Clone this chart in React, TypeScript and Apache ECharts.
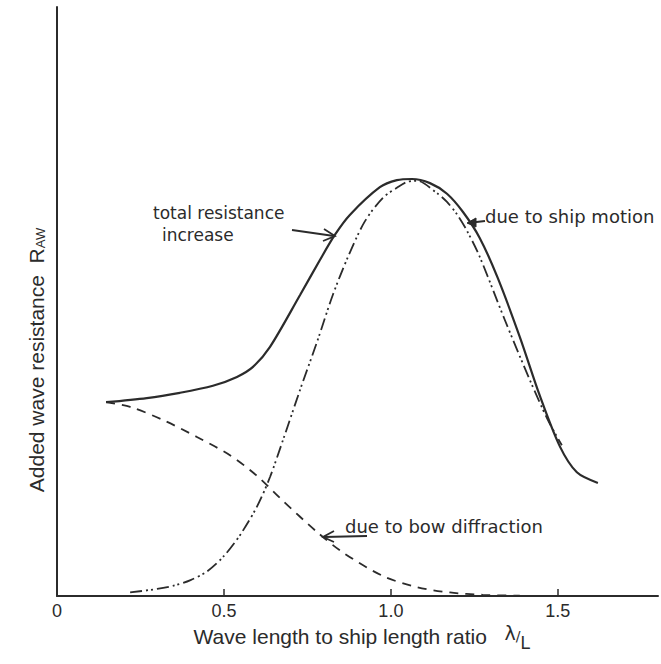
import React, { useEffect, useRef } from "react";
import * as echarts from "echarts";

// λ/L values and added-resistance values (arbitrary units, axis 0..100)
const totalX = [0.147, 0.269, 0.368, 0.467, 0.539, 0.587, 0.638, 0.728, 0.787, 0.832, 0.877, 0.967, 1.018, 1.063, 1.117, 1.168, 1.216, 1.266, 1.32, 1.386, 1.446, 1.506, 1.557, 1.62];
const totalY = [32.9, 33.6, 34.5, 35.7, 37.2, 38.9, 42.3, 51.1, 57.0, 61.3, 64.7, 69.4, 70.6, 70.8, 70.1, 68.3, 65.2, 60.8, 54.0, 44.0, 34.0, 25.4, 21.0, 19.2];

const motionX = [0.219, 0.3, 0.353, 0.4, 0.45, 0.5, 0.55, 0.6, 0.638, 0.677, 0.728, 0.781, 0.826, 0.871, 0.922, 0.976, 1.018, 1.048, 1.078, 1.138, 1.168, 1.198, 1.228, 1.266, 1.341, 1.416, 1.47, 1.512];
const motionY = [0.6, 1.2, 1.8, 2.7, 4.2, 6.8, 10.5, 15.3, 20.2, 26.5, 35.0, 43.5, 51.1, 57.5, 63.6, 67.6, 69.3, 70.3, 70.5, 68.4, 66.9, 64.8, 62.0, 57.6, 46.9, 36.7, 29.9, 25.6];

const bowX = [0.147, 0.219, 0.317, 0.419, 0.518, 0.599, 0.674, 0.778, 0.856, 0.976, 1.078, 1.177, 1.275, 1.386];
const bowY = [32.9, 32.1, 29.9, 27.0, 23.9, 20.4, 16.3, 10.9, 7.4, 3.4, 1.5, 0.6, 0.2, 0.05];

const xTickValues = [0.5, 1.0, 1.5];
const xLabelValues = [0, 0.5, 1.0, 1.5];

const zip = (xs: number[], ys: number[]) => xs.map((x, i) => [x, ys[i]]);

const INK = "#2b2b2b";

export default function App() {
  const ref = useRef<HTMLDivElement>(null);
  useEffect(() => {
    if (!ref.current) return;
    const chart = echarts.init(ref.current, undefined, { renderer: "svg" });
    const annoFont = { fontFamily: "DejaVu Sans", fontSize: 18, fill: INK };
    const arrowStyle = { stroke: INK, lineWidth: 1.8, fill: "none" };
    chart.setOption({
      animation: false,
      backgroundColor: "#ffffff",
      grid: { left: 57, right: 3, top: 7, bottom: 68, containLabel: false },
      xAxis: {
        type: "value",
        min: 0,
        max: 1.8,
        interval: 0.5,
        splitLine: { show: false },
        axisLine: { show: true, lineStyle: { color: INK, width: 2 } },
        axisTick: {
          show: true,
          inside: true,
          length: 7,
          customValues: xTickValues,
          lineStyle: { color: INK, width: 1.5 },
        },
        axisLabel: {
          show: true,
          customValues: xLabelValues,
          margin: 6,
          fontFamily: "Liberation Sans",
          fontSize: 18,
          color: INK,
          formatter: (v: number) => (v === 0 ? "0" : v.toFixed(1)),
        },
      },
      yAxis: {
        type: "value",
        min: 0,
        max: 100,
        splitLine: { show: false },
        axisLine: { show: true, lineStyle: { color: INK, width: 2 } },
        axisTick: { show: false },
        axisLabel: { show: false },
      },
      series: [
        {
          name: "total resistance increase",
          type: "line",
          smooth: 0.3,
          showSymbol: false,
          data: zip(totalX, totalY),
          lineStyle: { color: INK, width: 2.2, type: "solid" },
        },
        {
          name: "due to ship motion",
          type: "line",
          smooth: 0.3,
          showSymbol: false,
          data: zip(motionX, motionY),
          lineStyle: { color: INK, width: 1.8, type: [12, 4, 2, 3, 2, 4] },
        },
        {
          name: "due to bow diffraction",
          type: "line",
          smooth: 0.3,
          showSymbol: false,
          data: zip(bowX, bowY),
          lineStyle: { color: INK, width: 1.8, type: [9, 7] },
        },
      ],
      graphic: [
        { type: "text", x: 153, y: 213, style: { ...annoFont, fontSize: 17, text: "total resistance", verticalAlign: "middle" } },
        { type: "text", x: 162, y: 235, style: { ...annoFont, fontSize: 17, text: "increase", verticalAlign: "middle" } },
        { type: "line", shape: { x1: 292, y1: 230, x2: 334, y2: 236 }, style: arrowStyle },
        { type: "polyline", shape: { points: [[324, 229], [335, 236], [323, 241]] }, style: arrowStyle },

        { type: "text", x: 485, y: 216, style: { ...annoFont, text: "due to ship motion", verticalAlign: "middle" } },
        { type: "line", shape: { x1: 485, y1: 221, x2: 468, y2: 223 }, style: arrowStyle },
        { type: "polygon", shape: { points: [[467, 223], [476, 218], [476, 227]] }, style: { fill: INK, stroke: INK, lineWidth: 1 } },

        { type: "text", x: 345, y: 526, style: { ...annoFont, text: "due to bow diffraction", verticalAlign: "middle" } },
        { type: "line", shape: { x1: 367, y1: 536, x2: 324, y2: 537 }, style: arrowStyle },
        { type: "polyline", shape: { points: [[334, 531], [323, 537], [334, 542]] }, style: arrowStyle },

        {
          type: "text",
          x: 36,
          y: 360,
          rotation: Math.PI / 2,
          style: {
            text: "{m|Added wave resistance  R}{s|AW}",
            align: "center",
            verticalAlign: "middle",
            rich: {
              m: { fontFamily: "Liberation Sans", fontSize: 21, fill: INK, color: INK },
              s: { fontFamily: "Liberation Sans", fontSize: 13, fill: INK, color: INK, padding: [9, 0, 0, 0] },
            },
          },
        },
        {
          type: "text",
          x: 362,
          y: 636,
          style: {
            text: "{m|Wave length to ship length ratio   }{l|λ}{d|/}{s|L}",
            align: "center",
            verticalAlign: "middle",
            rich: {
              m: { fontFamily: "Liberation Sans", fontSize: 21, fill: INK, color: INK },
              l: { fontFamily: "DejaVu Sans", fontSize: 19, fill: INK, color: INK, padding: [0, 0, 6, 0] },
              d: { fontFamily: "DejaVu Sans", fontSize: 14, fill: INK, color: INK },
              s: { fontFamily: "Liberation Sans", fontSize: 18, fill: INK, color: INK, padding: [14, 0, 0, 0] },
            },
          },
        },
      ],
    });
    return () => chart.dispose();
  }, []);
  return <div ref={ref} style={{ width: 661, height: 664, position: "absolute", left: 0, top: 0 }} />;
}
